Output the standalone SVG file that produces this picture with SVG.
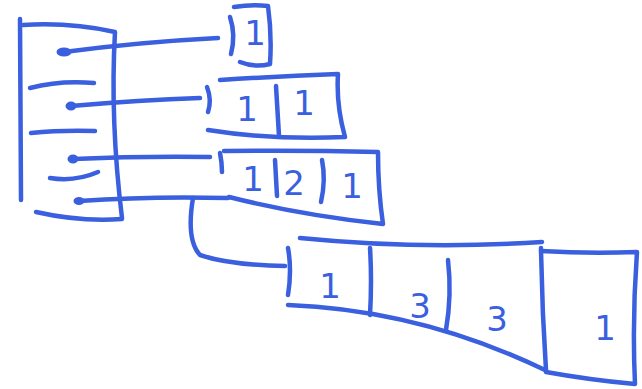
<svg xmlns="http://www.w3.org/2000/svg" width="642" height="389" viewBox="0 0 642 389">
<style>
.s{fill:none;stroke:#3a5fdf;stroke-width:4.5;stroke-linecap:round;stroke-linejoin:round}
.t{fill:#3a5fdf;font-family:"DejaVu Sans",sans-serif;font-size:34px;text-anchor:middle}
.d{fill:#3a5fdf;stroke:#3a5fdf;stroke-width:3}
</style>
<rect width="642" height="389" fill="#fff"/>
<g id="pointers">
<path class="s" d="M20 19 L21 200"/>
<path class="s" d="M23 25 Q70 22 115 32 Q110 120 122 218"/>
<path class="s" d="M36 212 Q80 222 122 219"/>
<path class="s" d="M30 88 Q60 80 94 83"/>
<path class="s" d="M31 133 Q60 130 95 131"/>
<path class="s" d="M50 178 Q75 182 98 172"/>
<ellipse class="d" cx="64" cy="52" rx="6" ry="3"/>
<ellipse class="d" cx="71" cy="106" rx="4" ry="3"/>
<ellipse class="d" cx="73" cy="159" rx="4" ry="3"/>
<ellipse class="d" cx="79" cy="201" rx="4" ry="2.5"/>
</g>
<g id="row0">
<path class="s" d="M230 17 Q236 35 231 54"/>
<path class="s" d="M234 7 Q252 4 268 6 Q272 35 270 64 Q255 68 240 62"/>
<text class="t" x="255" y="45">1</text>
</g>
<g id="row1">
<path class="s" d="M207 87 Q212 100 208 112"/>
<path class="s" d="M220 80 Q280 76 338 74 Q336 105 345 137 Q270 140 208 130"/>
<path class="s" d="M276 86 L279 136"/>
<text class="t" x="247" y="121">1</text>
<text class="t" x="304" y="115">1</text>
</g>
<g id="row2">
<path class="s" d="M220 153 Q222 163 222 172"/>
<path class="s" d="M224 151 Q300 150 378 152 Q378 190 383 224 Q300 215 229 197"/>
<path class="s" d="M275 160 L277 196"/>
<path class="s" d="M322 160 Q326 180 321 202"/>
<text class="t" x="253" y="191">1</text>
<text class="t" x="294" y="195">2</text>
<text class="t" x="352" y="198">1</text>
</g>
<g id="row3">
<path class="s" d="M288 248 Q292 270 288 295"/>
<path class="s" d="M300 238 Q420 250 542 242"/>
<path class="s" d="M541 251 Q590 254 637 252 Q632 320 635 384 Q590 380 546 372"/>
<path class="s" d="M288 305 Q420 310 545 370"/>
<path class="s" d="M370 248 Q372 280 370 315"/>
<path class="s" d="M448 260 Q452 295 446 330"/>
<path class="s" d="M541 248 Q542 310 546 370"/>
<text class="t" x="330" y="298">1</text>
<text class="t" x="420" y="318">3</text>
<text class="t" x="497" y="331">3</text>
<text class="t" x="605" y="340">1</text>
</g>
<g id="connectors">
<path class="s" d="M64 52 Q140 42 218 38"/>
<path class="s" d="M71 106 Q140 100 200 98"/>
<path class="s" d="M73 159 Q140 156 210 157"/>
<path class="s" d="M79 201 Q150 196 228 198"/>
<path class="s" d="M193 198 Q186 240 200 255 Q230 265 285 266"/>
</g>
</svg>
